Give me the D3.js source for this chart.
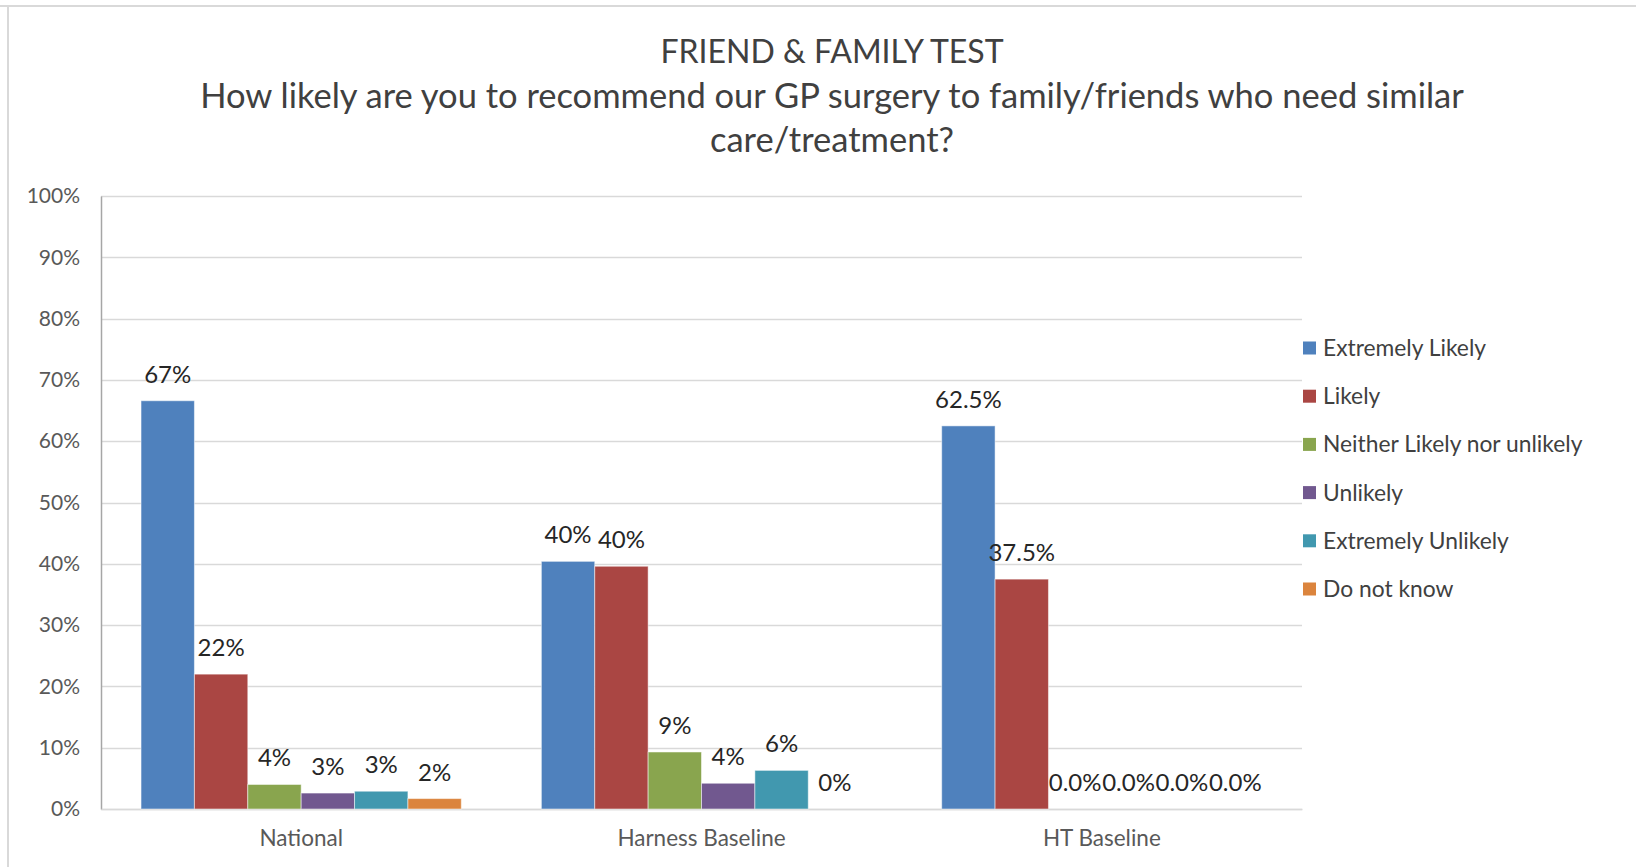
<!DOCTYPE html>
<html>
<head>
<meta charset="utf-8">
<script src="https://cdn.jsdelivr.net/npm/d3@7"></script>
<style>
  html, body { margin: 0; padding: 0; background: #fff; }
  svg { display: block; font-family: Lato, "Open Sans", sans-serif; }
</style>
</head>
<body>
<svg id="chart" width="1636" height="867"></svg>
<script>
const categories = ["National", "Harness Baseline", "HT Baseline"];
const seriesNames = ["Extremely Likely", "Likely", "Neither Likely nor unlikely", "Unlikely", "Extremely Unlikely", "Do not know"];
const seriesColors = ["#4F81BD", "#AA4643", "#89A54E", "#71588F", "#4198AF", "#DB843D"];
// values per series, one per category (fractions)
const extremelyLikely   = [0.666, 0.404, 0.625];
const likely            = [0.220, 0.396, 0.375];
const neither           = [0.040, 0.093, 0.000];
const unlikely          = [0.026, 0.042, 0.000];
const extremelyUnlikely = [0.029, 0.063, 0.000];
const doNotKnow         = [0.017, 0.000, 0.000];
// data labels as displayed
const labelsExtremelyLikely   = ["67%", "40%", "62.5%"];
const labelsLikely            = ["22%", "40%", "37.5%"];
const labelsNeither           = ["4%", "9%", "0.0%"];
const labelsUnlikely          = ["3%", "4%", "0.0%"];
const labelsExtremelyUnlikely = ["3%", "6%", "0.0%"];
const labelsDoNotKnow         = ["2%", "0%", "0.0%"];
const yTicks = [0, 0.1, 0.2, 0.3, 0.4, 0.5, 0.6, 0.7, 0.8, 0.9, 1.0];
const titleLines = ["FRIEND & FAMILY TEST", "How likely are you to recommend our GP surgery to family/friends who need similar", "care/treatment?"];

const seriesValues = [extremelyLikely, likely, neither, unlikely, extremelyUnlikely, doNotKnow];
const seriesLabels = [labelsExtremelyLikely, labelsLikely, labelsNeither, labelsUnlikely, labelsExtremelyUnlikely, labelsDoNotKnow];

const svg = d3.select("#chart");

// outer frame lines
svg.append("rect").attr("x", 0).attr("y", 5).attr("width", 1636).attr("height", 2).attr("fill", "#d9d9d9");
svg.append("rect").attr("x", 7).attr("y", 5).attr("width", 2).attr("height", 862).attr("fill", "#d9d9d9");

const plot = { left: 101, right: 1302, top: 196, bottom: 809 };

const y = d3.scaleLinear().domain([0, 1]).range([plot.bottom, plot.top]);
const x0 = d3.scaleBand().domain(categories).range([plot.left, plot.right]).padding(0);
const x1 = d3.scaleBand().domain(seriesNames)
  .range([x0.bandwidth() * 0.1, x0.bandwidth() * 0.9]).padding(0);
const color = d3.scaleOrdinal().domain(seriesNames).range(seriesColors);

// gridlines
svg.append("g")
  .selectAll("line")
  .data(yTicks)
  .join("line")
  .attr("x1", plot.left).attr("x2", plot.right)
  .attr("y1", d => Math.round(y(d)) + 0.5).attr("y2", d => Math.round(y(d)) + 0.5)
  .attr("stroke", "#d9d9d9").attr("stroke-width", 1.5);

// y axis
const yAxis = d3.axisLeft(y).tickValues(yTicks).tickFormat(d3.format(".0%")).tickSize(0).tickPadding(21);
const gy = svg.append("g").attr("transform", `translate(${plot.left},0)`).call(yAxis);
gy.select(".domain").attr("stroke", "#a6a6a6").attr("stroke-width", 1.5);
gy.selectAll("text").attr("font-size", 21).attr("fill", "#595959").attr("font-family", "Lato, sans-serif");

// x axis
const xAxis = d3.axisBottom(x0).tickSize(0).tickPadding(21);
const gx = svg.append("g").attr("transform", `translate(0,${plot.bottom})`).call(xAxis);
gx.select(".domain").attr("stroke", "#d9d9d9").attr("stroke-width", 1.5);
gx.selectAll("text").attr("font-size", 22.5).attr("fill", "#595959").attr("font-family", "Lato, sans-serif");

// bars
const groups = svg.append("g")
  .selectAll("g")
  .data(categories)
  .join("g")
  .attr("transform", c => `translate(${x0(c)},0)`);

groups.selectAll("rect")
  .data((c, ci) => seriesNames.map((s, si) => ({ s, v: seriesValues[si][ci] })))
  .join("rect")
  .attr("x", d => x1(d.s))
  .attr("width", x1.bandwidth())
  .attr("y", d => y(d.v))
  .attr("height", d => y(0) - y(d.v))
  .attr("fill", d => color(d.s))
  .attr("stroke", "#ffffff").attr("stroke-opacity", 0.5).attr("stroke-width", 1);

groups.selectAll("text")
  .data((c, ci) => seriesNames.map((s, si) => ({ s, v: seriesValues[si][ci], l: seriesLabels[si][ci] })))
  .join("text")
  .attr("x", d => x1(d.s) + x1.bandwidth() / 2)
  .attr("y", d => y(d.v) - 18)
  .attr("text-anchor", "middle")
  .attr("font-size", 24)
  .attr("fill", "#262626")
  .text(d => d.l);

// title
svg.append("g").selectAll("text")
  .data(titleLines)
  .join("text")
  .attr("x", 832)
  .attr("y", (d, i) => [63, 108, 152][i])
  .attr("text-anchor", "middle")
  .attr("font-size", (d, i) => i === 0 ? 32 : 34.5)
  .attr("fill", "#404040")
  .text(d => d);

// legend
const legend = svg.append("g").attr("transform", "translate(1303,348)");
const li = legend.selectAll("g").data(seriesNames).join("g")
  .attr("transform", (d, i) => `translate(0,${i * 48.2})`);
li.append("rect").attr("x", 0).attr("y", -6.5).attr("width", 13).attr("height", 13).attr("fill", d => color(d));
li.append("text").attr("x", 20).attr("y", 0).attr("dy", "0.35em")
  .attr("font-size", 22.8).attr("fill", "#404040").text(d => d);
</script>
</body>
</html>
